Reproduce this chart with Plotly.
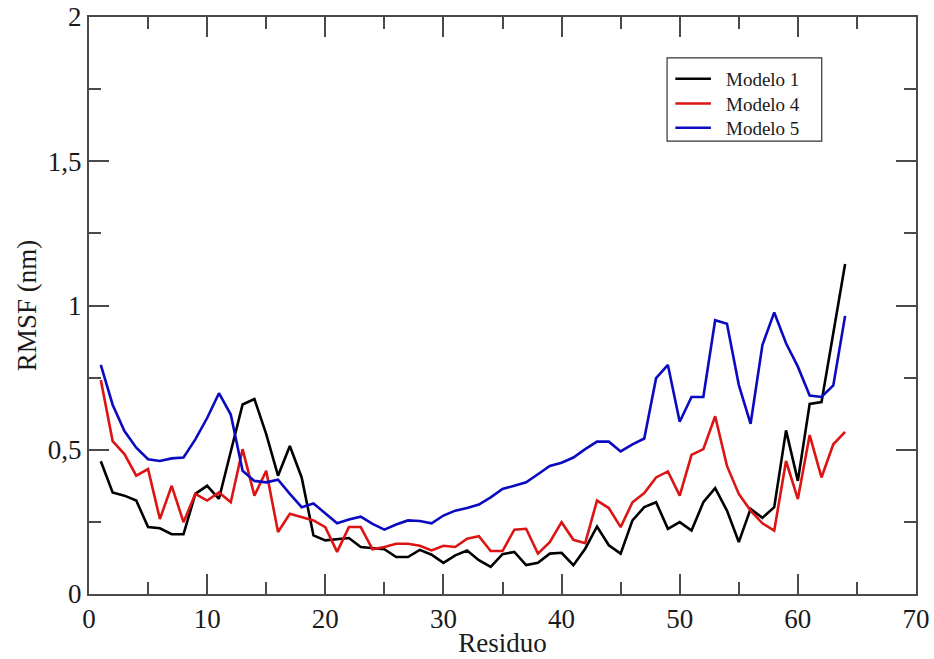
import plotly.graph_objects as go

residuos = list(range(1, 65))

modelo1 = [0.46, 0.352, 0.341, 0.324, 0.232, 0.228, 0.207, 0.207, 0.347, 0.375,
           0.33, 0.49, 0.657, 0.676, 0.554, 0.41, 0.513, 0.404, 0.203, 0.186,
           0.19, 0.194, 0.163, 0.16, 0.155, 0.128, 0.128, 0.153, 0.136, 0.108,
           0.134, 0.151, 0.117, 0.094, 0.138, 0.146, 0.1, 0.108, 0.14, 0.143,
           0.1, 0.157, 0.234, 0.169, 0.14, 0.255, 0.301, 0.318, 0.226, 0.249,
           0.22, 0.318, 0.367, 0.289, 0.18, 0.295, 0.264, 0.301, 0.567, 0.392,
           0.659, 0.665, 0.909, 1.144]

modelo4 = [0.742, 0.53, 0.485, 0.41, 0.433, 0.26, 0.375, 0.249, 0.347, 0.324,
           0.352, 0.318, 0.502, 0.341, 0.427, 0.215, 0.278, 0.266, 0.255, 0.232,
           0.146, 0.232, 0.232, 0.155, 0.163, 0.174, 0.174, 0.167, 0.151, 0.167,
           0.163, 0.192, 0.2, 0.149, 0.149, 0.223, 0.226, 0.14, 0.18, 0.249,
           0.188, 0.176, 0.324, 0.298, 0.232, 0.318, 0.35, 0.404, 0.425, 0.341,
           0.482, 0.502, 0.616, 0.444, 0.347, 0.289, 0.245, 0.22, 0.461, 0.329,
           0.551, 0.404, 0.519, 0.562]

modelo5 = [0.794, 0.656, 0.565, 0.507, 0.467, 0.461, 0.47, 0.473, 0.536, 0.61,
           0.696, 0.622, 0.427, 0.392, 0.387, 0.396, 0.347, 0.301, 0.314, 0.278,
           0.245, 0.258, 0.268, 0.243, 0.223, 0.241, 0.255, 0.253, 0.245, 0.272,
           0.289, 0.298, 0.31, 0.335, 0.364, 0.375, 0.387, 0.415, 0.444, 0.455,
           0.473, 0.502, 0.528, 0.528, 0.494, 0.519, 0.539, 0.748, 0.794, 0.597,
           0.683, 0.683, 0.949, 0.937, 0.725, 0.59, 0.863, 0.976, 0.869, 0.788,
           0.688, 0.683, 0.723, 0.964]

series_names = ["Modelo 1", "Modelo 4", "Modelo 5"]
series_colors = ["#000000", "#dc1414", "#0a0ac0"]

y_tickvals = [0, 0.5, 1, 1.5, 2]
y_ticktext = ["0", "0,5", "1", "1,5", "2"]
x_tickvals = [0, 10, 20, 30, 40, 50, 60, 70]

FONT = "Liberation Serif"
AXC = "#4a4a4a"
TXT = "#1a1a1a"

fig = go.Figure()
for name, vals, col in zip(series_names, [modelo1, modelo4, modelo5], series_colors):
    fig.add_trace(go.Scatter(x=residuos, y=vals, mode="lines", name=name,
                             line=dict(color=col, width=2.6), showlegend=False))

# Custom legend box (paper coordinates)
LEG_X0, LEG_X1, LEG_Y0, LEG_Y1 = 0.699, 0.886, 0.785, 0.929
LEG_FONT = 19
ROW_Y = [0.893, 0.850, 0.808]
LINE_X0, LINE_X1, TEXT_X = 0.709, 0.752, 0.769
fig.add_shape(type="rect", xref="paper", yref="paper", x0=LEG_X0, x1=LEG_X1,
              y0=LEG_Y0, y1=LEG_Y1, line=dict(color="#333", width=1.2),
              fillcolor="white", layer="above")
for col, ry in zip(series_colors, ROW_Y):
    fig.add_shape(type="line", xref="paper", yref="paper", x0=LINE_X0, x1=LINE_X1,
                  y0=ry, y1=ry, line=dict(color=col, width=2.6), layer="above")
fig.add_annotation(xref="paper", yref="paper", x=TEXT_X, y=ROW_Y[1],
                   text="<br>".join(series_names), align="left",
                   showarrow=False, xanchor="left", yanchor="middle", borderpad=0,
                   font=dict(family=FONT, size=LEG_FONT, color=TXT))

fig.update_layout(
    width=934, height=659,
    margin=dict(l=89, r=18, t=17, b=65, autoexpand=False),
    paper_bgcolor="white", plot_bgcolor="white",
    font=dict(family=FONT, size=22, color=TXT),
    showlegend=False,
    xaxis=dict(range=[0, 70], tickvals=x_tickvals, ticks="inside", ticklen=20,
               tickwidth=1.5, tickcolor=AXC, showline=True, linecolor=AXC,
               linewidth=2, mirror="allticks", showgrid=False, zeroline=False,
               automargin=False,
               tickfont=dict(family=FONT, size=27, color=TXT),
               title=dict(text="Residuo", font=dict(family=FONT, size=27, color=TXT),
                          standoff=0),
               minor=dict(dtick=5, tick0=0, ticks="inside", ticklen=12,
                          tickwidth=1.5, tickcolor=AXC, showgrid=False)),
    yaxis=dict(range=[0, 2], tickvals=y_tickvals, ticktext=y_ticktext, ticks="inside",
               ticklen=20, tickwidth=1.5, tickcolor=AXC, showline=True, linecolor=AXC,
               linewidth=2, mirror="allticks", showgrid=False, zeroline=False,
               automargin=False,
               tickfont=dict(family=FONT, size=27, color=TXT),
               title=dict(text="RMSF (nm)", font=dict(family=FONT, size=27, color=TXT),
                          standoff=3),
               minor=dict(dtick=0.25, tick0=0, ticks="inside", ticklen=12,
                          tickwidth=1.5, tickcolor=AXC, showgrid=False)),
)

fig.write_html("out.html")
